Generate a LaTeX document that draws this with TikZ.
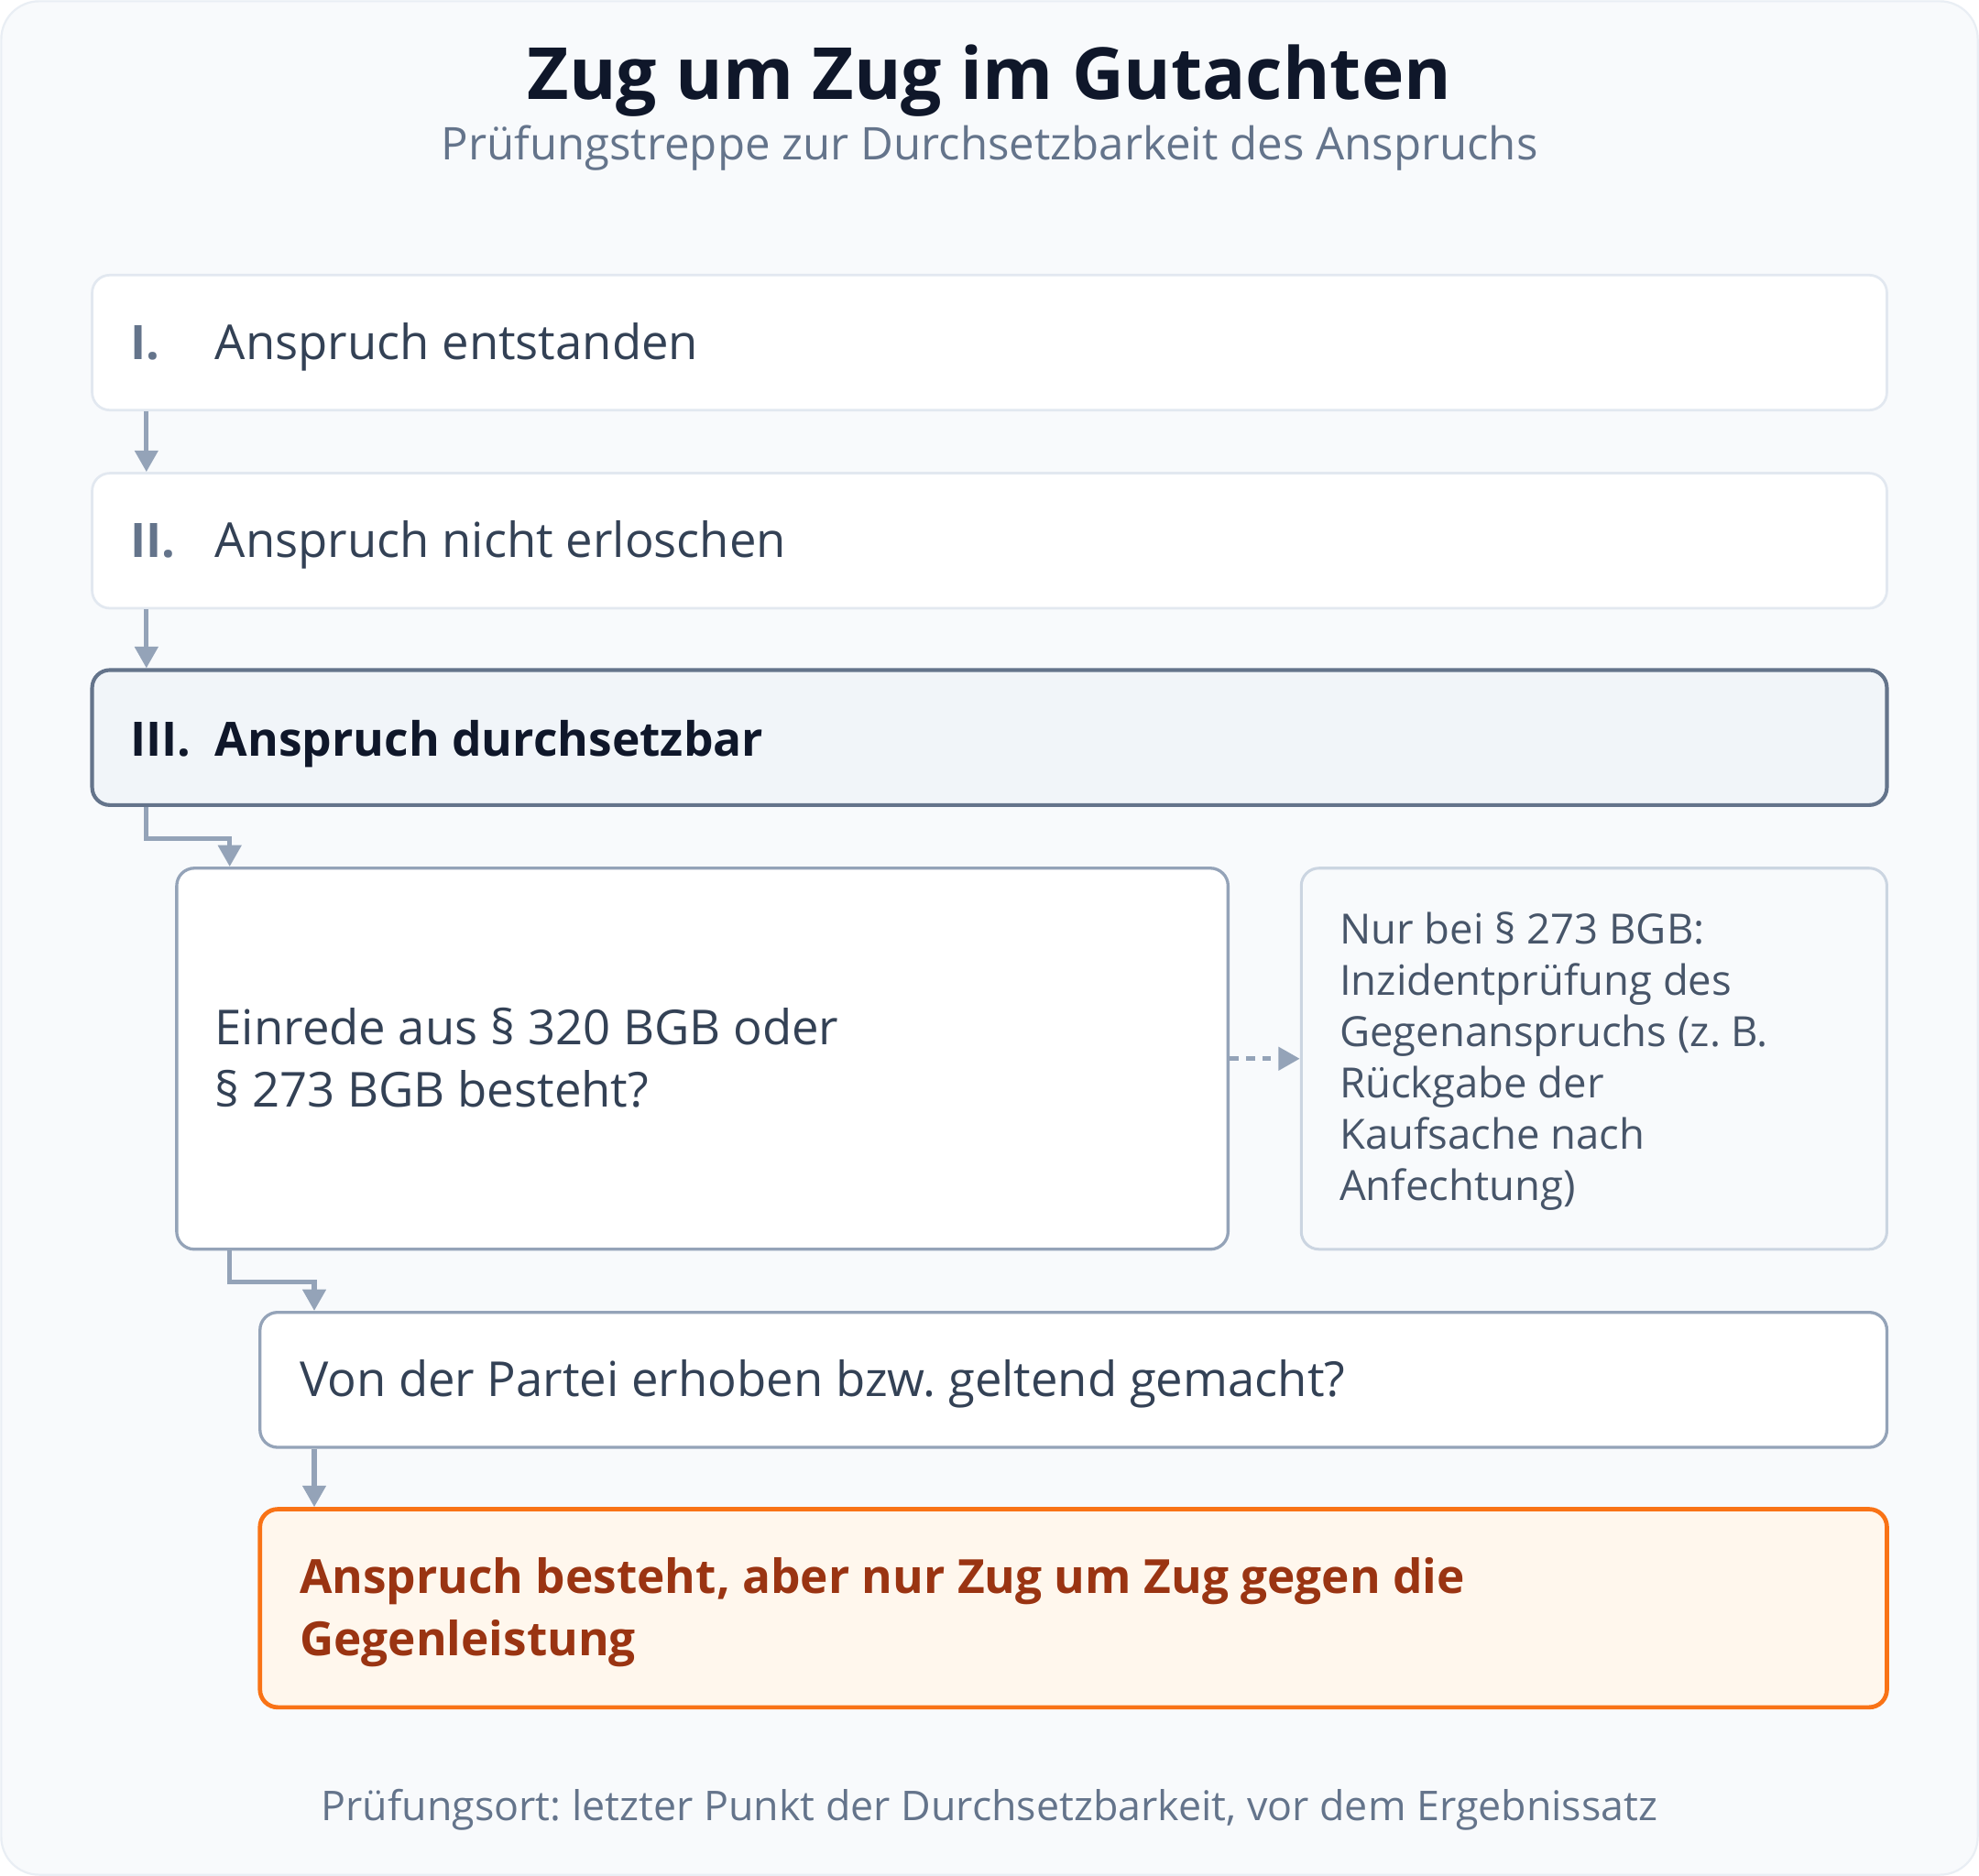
\documentclass[tikz,border=0pt]{standalone}
\usepackage{fontspec}
\setmainfont{Open Sans}
\frenchspacing
\usetikzlibrary{arrows.meta}
\definecolor{bgc}{HTML}{F8FAFC}
\definecolor{edgec}{HTML}{E9EEF4}
\definecolor{titlec}{HTML}{0F172A}
\definecolor{subc}{HTML}{64748B}
\definecolor{lightb}{HTML}{E2E8F0}
\definecolor{textc}{HTML}{334155}
\definecolor{hlfill}{HTML}{F1F5F9}
\definecolor{arrc}{HTML}{94A3B8}
\definecolor{sideb}{HTML}{CBD5E1}
\definecolor{sidet}{HTML}{475569}
\definecolor{orab}{HTML}{F97316}
\definecolor{oraf}{HTML}{FFF7ED}
\definecolor{orat}{HTML}{9A3412}
\tikzset{
  box/.style={rectangle, rounded corners=7pt, inner sep=0pt},
  plainbox/.style={box, fill=white, draw=lightb, line width=1pt},
  hlbox/.style={box, fill=hlfill, draw=subc, line width=1.5pt},
  qbox/.style={box, fill=white, draw=arrc, line width=1.2pt},
  sidebox/.style={box, fill=bgc, draw=sideb, line width=1.1pt},
  resbox/.style={box, fill=oraf, draw=orab, line width=1.7pt},
  lbl/.style={inner sep=0pt, anchor=base west},
  body/.style={lbl, font=\fontsize{19.1}{23}\selectfont, text=textc},
  num/.style={lbl, font=\fontsize{18.8}{23}\selectfont\bfseries, text=subc},
  boldbody/.style={lbl, font=\fontsize{18.7}{23}\selectfont\bfseries, text=titlec},
  side/.style={lbl, font=\fontsize{16.5}{20}\selectfont, text=sidet},
  res/.style={lbl, font=\fontsize{18.65}{23}\selectfont\bfseries, text=orat},
  arr/.style={draw=arrc, line width=1.9pt, -{Triangle[length=8.5pt,width=9pt]}},
}
\begin{document}
\begin{tikzpicture}[x=0.5pt,y=-0.5pt]
\useasboundingbox (0,0) rectangle (1568,1486.7);
\fill[white] (0,0) rectangle (1568,1486.7);
\draw[fill=bgc, draw=edgec, line width=0.8pt, rounded corners=15pt] (1,1) rectangle (1567,1485.7);

% title
\node[inner sep=0pt, anchor=base, font=\fontsize{28.5}{34}\selectfont\bfseries, text=titlec] (title) at (784,78.5) {Zug um Zug im Gutachten};
\node[inner sep=0pt, anchor=base, font=\fontsize{17.85}{21}\selectfont, text=subc] (subtitle) at (784,127) {Prüfungstreppe zur Durchsetzbarkeit des Anspruchs};

% boxes
\node[plainbox, minimum width=711pt, minimum height=53.5pt] (b1) at (784,271.5) {};
\node[plainbox, minimum width=711pt, minimum height=53.5pt] (b2) at (784,428.5) {};
\node[hlbox, minimum width=711pt, minimum height=53.5pt] (b3) at (784,584.5) {};
\node[qbox, minimum width=416.5pt, minimum height=151pt] (b4) at (556.5,839) {};
\node[sidebox, minimum width=232pt, minimum height=151pt] (b5) at (1263,839) {};
\node[qbox, minimum width=644.5pt, minimum height=53.5pt] (b6) at (850.5,1093.5) {};
\node[resbox, minimum width=644.5pt, minimum height=78.5pt] (b7) at (850.5,1274.5) {};

% texts
\node[num] (n1) at (103,284.6) {I.};
\node[body] (t1) at (170,284.6) {Anspruch entstanden};
\node[num] (n2) at (103,442) {II.};
\node[body] (t2) at (170,442) {Anspruch nicht erloschen};
\node[num, text=titlec] (n3) at (103,599) {III.};
\node[boldbody] (t3) at (170,599) {Anspruch durchsetzbar};
\node[body] (t4a) at (170,828) {Einrede aus § 320 BGB oder};
\node[body] (t4b) at (170,877) {§ 273 BGB besteht?};
\node[side] (t5a) at (1061,748) {Nur bei § 273 BGB:};
\node[side] (t5b) at (1061,789) {Inzidentprüfung des};
\node[side] (t5c) at (1061,829.5) {Gegenanspruchs (z. B.};
\node[side] (t5d) at (1061,870) {Rückgabe der};
\node[side] (t5e) at (1061,910.5) {Kaufsache nach};
\node[side] (t5f) at (1061,951) {Anfechtung)};
\node[body] (t6) at (237,1107) {Von der Partei erhoben bzw. geltend gemacht?};
\node[res] (t7a) at (237,1263) {Anspruch besteht, aber nur Zug um Zug gegen die};
\node[res] (t7b) at (237,1312) {Gegenleistung};

\node[inner sep=0pt, anchor=base, font=\fontsize{16.25}{20}\selectfont, text=subc] (foot) at (784,1442.5) {Prüfungsort: letzter Punkt der Durchsetzbarkeit, vor dem Ergebnissatz};

% connectors
\coordinate (c1) at (116,0);
\coordinate (c2) at (182,0);
\coordinate (c3) at (249,0);
\draw[arr] (b1.south -| c1) -- (b2.north -| c1);
\draw[arr] (b2.south -| c1) -- (b3.north -| c1);
\draw[arr] (b3.south -| c1) -- ++(0,25) -| (b4.north -| c2);
\draw[arr] (b4.south -| c2) -- ++(0,25) -| (b6.north -| c3);
\draw[arr] (b6.south -| c3) -- (b7.north -| c3);
\draw[arr, dash pattern=on 3.5pt off 3pt] (b4.east) -- (b5.west);
\end{tikzpicture}
\end{document}
